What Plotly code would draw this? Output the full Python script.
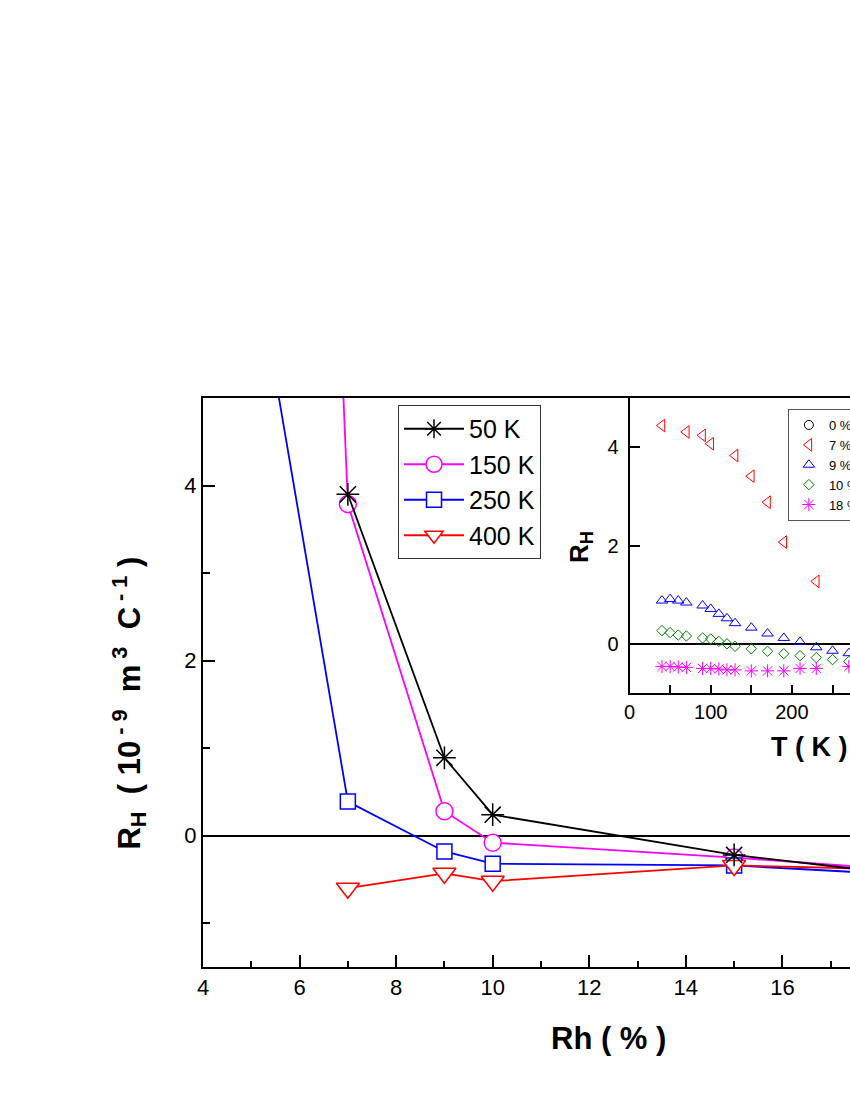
import plotly.graph_objects as go

# ---------------- main panel data (R_H vs Rh %) ----------------
rh_pct = [0, 7, 9, 10, 15, 18]
rh_50K = [None, 3.90, 0.89, 0.24, -0.22, -0.41]
rh_150K = [97.0, 3.79, 0.28, -0.08, -0.25, -0.37]
rh_250K = [23.0, 0.39, -0.18, -0.32, -0.34, -0.43]
rh_400K = [None, -0.60, -0.43, -0.52, -0.34, -0.38]
main_names = ["50 K", "150 K", "250 K", "400 K"]

# ---------------- inset data (R_H vs T) ----------------
t_0 = [150, 250]
rh_0 = [97.0, 23.0]
t_7 = [40, 70, 90, 100, 130, 150, 170, 190, 230]
rh_7 = [4.44, 4.31, 4.24, 4.07, 3.83, 3.41, 2.88, 2.07, 1.27]
t_9 = [40, 50, 60, 70, 90, 100, 110, 120, 130, 150, 170, 190, 210, 230, 250, 270]
rh_9 = [0.88, 0.91, 0.88, 0.84, 0.78, 0.71, 0.61, 0.52, 0.42, 0.33, 0.21, 0.12, 0.04, -0.07, -0.14, -0.19]
t_10 = [40, 50, 60, 70, 90, 100, 110, 120, 130, 150, 170, 190, 210, 230, 250, 270]
rh_10 = [0.27, 0.23, 0.18, 0.16, 0.12, 0.10, 0.05, 0.0, -0.05, -0.10, -0.15, -0.20, -0.24, -0.28, -0.32, -0.36]
t_18 = [40, 50, 60, 70, 90, 100, 110, 120, 130, 150, 170, 190, 210, 230, 270]
rh_18 = [-0.46, -0.46, -0.47, -0.48, -0.50, -0.50, -0.51, -0.53, -0.53, -0.55, -0.55, -0.55, -0.50, -0.50, -0.46]
inset_names = ["0 %", "7 %", "9 %", "10 %", "18 %"]

FONT = "Liberation Sans, Arial, sans-serif"

fig = go.Figure()

main_series = [
    (rh_50K, "black", "asterisk-open", 19, "black"),
    (rh_150K, "#FF00FF", "circle", 17, "white"),
    (rh_250K, "#0000FF", "square", 15, "white"),
    (rh_400K, "#FF0000", "triangle-down", 20, "white"),
]
# draw the 50 K series last so its asterisks stay on top; legendrank keeps the order
draw_order = [1, 2, 3, 0]
for i in draw_order:
    vals, col, sym, sz, fill = main_series[i]
    fig.add_trace(go.Scatter(
        x=rh_pct, y=vals, name=main_names[i], mode="lines+markers",
        line=dict(color=col, width=1.8),
        marker=dict(symbol=sym, size=sz, color=fill,
                    line=dict(color=col, width=1.5)),
        legendgroup="g%d" % i, legendrank=100 + i, legend="legend",
        xaxis="x", yaxis="y",
    ))

inset_series = [
    (t_0, rh_0, "black", "circle-open", 9),
    (t_7, rh_7, "#FF0000", "triangle-left-open", 11),
    (t_9, rh_9, "#0000FF", "triangle-up-open", 10),
    (t_10, rh_10, "#008000", "diamond-open", 8),
    (t_18, rh_18, "#FF00FF", "asterisk-open", 11),
]
for i, (tx, vy, col, sym, sz) in enumerate(inset_series):
    fig.add_trace(go.Scatter(
        x=tx, y=vy, name=inset_names[i], mode="markers",
        marker=dict(symbol=sym, size=sz, color=col,
                    line=dict(color=col, width=1)),
        legendrank=200 + i, legend="legend2", xaxis="x2", yaxis="y2",
    ))

axis_common = dict(showgrid=False, showline=True, linecolor="black",
                   ticks="inside", tickcolor="black")

fig.update_layout(
    width=850, height=1100, autosize=False,
    margin=dict(l=203, r=0, t=398, b=133, autoexpand=False),
    paper_bgcolor="white", plot_bgcolor="white",
    font=dict(family=FONT, color="black"),
    xaxis=dict(domain=[0, 1], range=[4, 17.40], linewidth=2, mirror=True,
               tick0=0, dtick=2, ticklen=12, tickwidth=1.5,
               minor=dict(ticks="inside", dtick=1, ticklen=6, tickwidth=1.5, tickcolor="black"),
               tickfont=dict(size=22, family=FONT), zeroline=False,
               **axis_common),
    yaxis=dict(domain=[0, 1], range=[-1.5, 5], linewidth=2, mirror=False,
               tick0=0, dtick=2, ticklen=12, tickwidth=1.5,
               minor=dict(ticks="inside", dtick=1, ticklen=7, tickwidth=1.5, tickcolor="black"),
               tickfont=dict(size=22, family=FONT),
               zeroline=True, zerolinecolor="black", zerolinewidth=2,
               **axis_common),
    xaxis2=dict(domain=[0.6592, 1], range=[0, 271.5], anchor="y2", linewidth=2,
                mirror=False, tick0=0, dtick=100, ticklen=8, tickwidth=1.5,
                minor=dict(ticks="inside", dtick=50, ticklen=8, tickwidth=1.5, tickcolor="black"),
                tickfont=dict(size=20, family=FONT), zeroline=False,
                **axis_common),
    yaxis2=dict(domain=[0.4815, 1], range=[-1, 5], anchor="x2", linewidth=2,
                mirror=False, tick0=0, dtick=2, ticklen=10, tickwidth=1.5,
                tickfont=dict(size=20, family=FONT), ticklabelstandoff=5,
                zeroline=True, zerolinecolor="black", zerolinewidth=2,
                **axis_common),
    legend=dict(x=0.3014, y=0.9877, xanchor="left", yanchor="top",
                bgcolor="white", bordercolor="#333333", borderwidth=1,
                font=dict(size=25, family=FONT), tracegroupgap=0,
                itemwidth=60),
    legend2=dict(x=0.904, y=0.9807, xanchor="left", yanchor="top",
                 bgcolor="white", bordercolor="#555555", borderwidth=1,
                 font=dict(size=13, family=FONT), tracegroupgap=0,
                 itemwidth=30),
    showlegend=True,
)

annotations = [
    dict(text="<b>Rh ( % )</b>", x=0.626, y=-0.1248, xref="paper", yref="paper",
         xanchor="center", yanchor="middle", showarrow=False,
         font=dict(size=31, family=FONT)),
    dict(text="<b>R<sub>H</sub>  ( 10<sup> - 9</sup>  m<sup> 3</sup>  C<sup> - 1</sup> )</b>",
         x=-0.1135, y=0.464, xref="paper", yref="paper", textangle=-90,
         xanchor="center", yanchor="middle", showarrow=False,
         font=dict(size=31, family=FONT)),
    dict(text="<b>T ( K )</b>", x=0.9366, y=0.3866, xref="paper", yref="paper",
         xanchor="center", yanchor="middle", showarrow=False,
         font=dict(size=27, family=FONT)),
    dict(text="<b>R<sub>H</sub></b>", x=0.5827, y=0.738, xref="paper", yref="paper",
         textangle=-90, xanchor="center", yanchor="middle", showarrow=False,
         font=dict(size=26, family=FONT)),
]
fig.update_layout(annotations=annotations)

fig.write_html("out.html",
               config={"displayModeBar": False, "responsive": False},
               post_script="document.body.style.margin='0px';document.body.style.overflow='hidden';")
